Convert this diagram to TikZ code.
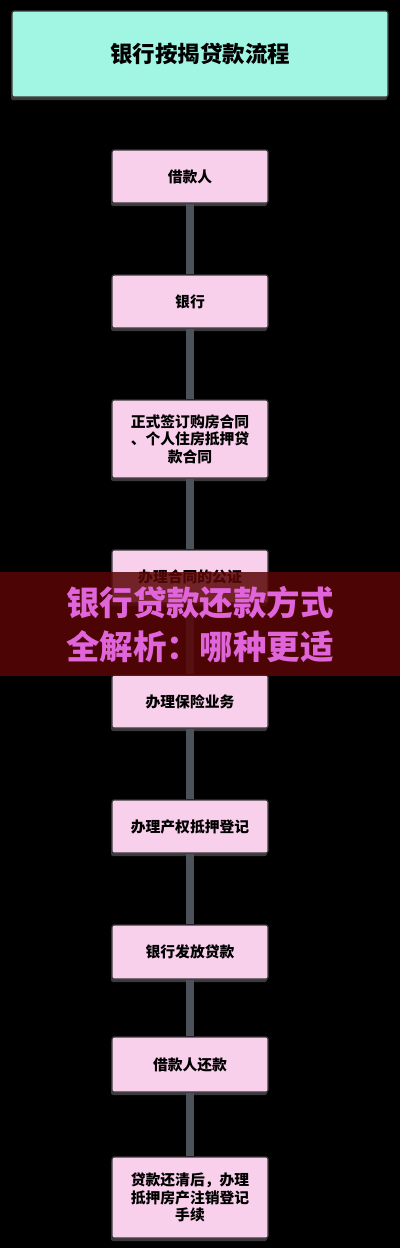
\documentclass[tikz,border=0pt]{standalone}
\usepackage{fontspec}
\newfontfamily\cjk{Noto Sans CJK SC}
\usetikzlibrary{shadows}
\definecolor{mint}{HTML}{A0F5E3}
\definecolor{pinkbox}{HTML}{F9D0EC}
\definecolor{edge}{HTML}{3A3A3A}
\definecolor{conncol}{HTML}{4B525A}
\definecolor{bannerbg}{HTML}{5A0505}
\definecolor{bannertxt}{HTML}{E065DA}
\tikzset{
  boxbase/.style={rectangle, rounded corners=2pt, draw=edge, line width=1.2pt,
    drop shadow={shadow xshift=-1pt, shadow yshift=-3pt, fill=edge, opacity=1},
    align=center, inner sep=0pt, font=\cjk\bfseries},
  titlebox/.style={boxbase, fill=mint, minimum width=376pt, minimum height=86pt, font=\cjk\bfseries\fontsize{22.5pt}{26pt}\selectfont},
  stepbox/.style={boxbase, fill=pinkbox, minimum width=156pt, font=\cjk\bfseries\fontsize{14.8pt}{17.5pt}\selectfont},
  conn/.style={draw=conncol, line width=8pt},
  bannertext/.style={text=bannertxt, font=\cjk\bfseries\fontsize{33.5pt}{40pt}\selectfont, inner sep=0pt}
}
\begin{document}
\begin{tikzpicture}[x=1pt,y=-1pt]
\fill[black] (0,0) rectangle (400,1248);
\useasboundingbox (0,0) rectangle (400,1248);
\node[titlebox] (t) at (200,54) {银行按揭贷款流程};
\node[stepbox, minimum height=53pt] (b1) at (190,176.5) {借款人};
\node[stepbox, minimum height=53pt] (b2) at (190,301.5) {银行};
\node[stepbox, minimum height=78pt] (b3) at (190,439) {正式签订购房合同\\、个人住房抵押贷\\款合同};
\node[stepbox, minimum height=53pt] (b4) at (190,576.5) {办理合同的公证};
\node[stepbox, minimum height=53pt] (b5) at (190,701.5) {办理保险业务};
\node[stepbox, minimum height=53pt] (b6) at (190,826.5) {办理产权抵押登记};
\node[stepbox, minimum height=54pt] (b7) at (190,952) {银行发放贷款};
\node[stepbox, minimum height=55pt] (b8) at (190,1064.5) {借款人还款};
\node[stepbox, minimum height=81pt] (b9) at (190,1197.5) {贷款还清后，办理\\抵押房产注销登记\\手续};
\draw[conn] (b1.south) -- (b2.north);
\draw[conn] (b2.south) -- (b3.north);
\draw[conn] (b3.south) -- (b4.north);
\draw[conn] (b4.south) -- (b5.north);
\draw[conn] (b5.south) -- (b6.north);
\draw[conn] (b6.south) -- (b7.north);
\draw[conn] (b7.south) -- (b8.north);
\draw[conn] (b8.south) -- (b9.north);
\fill[bannerbg, opacity=0.85] (0,572) rectangle (400,676);
\node[bannertext] (l1) at (200,603) {银行贷款还款方式};
\node[bannertext] (l2) at (200,647) {全解析：哪种更适};
\end{tikzpicture}
\end{document}
